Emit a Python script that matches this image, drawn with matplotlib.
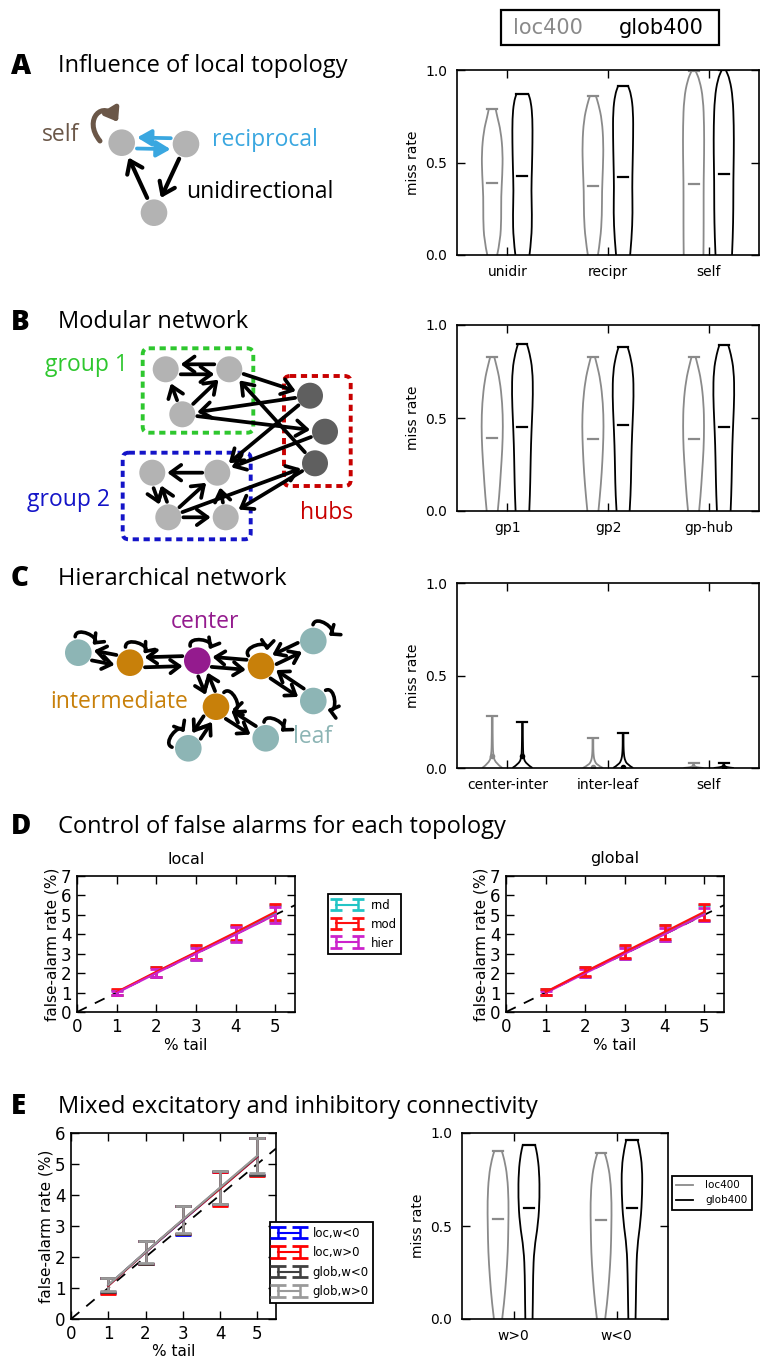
import numpy as np
import matplotlib
matplotlib.use("Agg")
import matplotlib.pyplot as plt
from matplotlib.patches import Circle, FancyArrowPatch, FancyBboxPatch, Rectangle, PathPatch
from matplotlib.path import Path

# ---------------- data ----------------
# violin profiles: half-widths sampled at these fractions of each violin's max
FRAC = [0, 0.1, 0.25, 0.4, 0.55, 0.7, 0.85, 0.95, 1.0]

A_cats = ["unidir", "recipr", "self"]
A_loc_top = [0.787, 0.859, 0.995]
A_loc_med = [0.389, 0.373, 0.384]
A_glob_top = [0.870, 0.913, 1.0]
A_glob_med = [0.427, 0.422, 0.436]
A_loc_hw = [[0.049, 0.08, 0.09, 0.088, 0.1, 0.105, 0.085, 0.05, 0.035],
            [0.05, 0.075, 0.09, 0.09, 0.1, 0.105, 0.09, 0.055, 0.03],
            [0.098, 0.1, 0.1, 0.1, 0.105, 0.105, 0.095, 0.06, 0.02]]
A_glob_hw = [[0.07, 0.09, 0.095, 0.088, 0.095, 0.1, 0.1, 0.085, 0.06],
             [0.07, 0.085, 0.095, 0.09, 0.095, 0.1, 0.1, 0.08, 0.05],
             [0.082, 0.09, 0.095, 0.095, 0.1, 0.1, 0.09, 0.06, 0.02]]

B_cats = ["gp1", "gp2", "gp-hub"]
B_loc_top = [0.828, 0.828, 0.828]
B_loc_med = [0.395, 0.386, 0.386]
B_glob_top = [0.896, 0.881, 0.890]
B_glob_med = [0.450, 0.461, 0.452]
B_loc_hw = [[0.055, 0.07, 0.085, 0.1, 0.107, 0.1, 0.075, 0.04, 0.02],
            [0.055, 0.07, 0.088, 0.1, 0.107, 0.1, 0.075, 0.04, 0.02],
            [0.055, 0.07, 0.085, 0.1, 0.105, 0.1, 0.075, 0.04, 0.02]]
B_glob_hw = [[0.068, 0.075, 0.08, 0.085, 0.095, 0.105, 0.1, 0.07, 0.045],
             [0.065, 0.075, 0.08, 0.085, 0.095, 0.105, 0.1, 0.07, 0.045],
             [0.068, 0.075, 0.08, 0.085, 0.095, 0.105, 0.1, 0.07, 0.045]]

C_cats = ["center-inter", "inter-leaf", "self"]
C_loc_top = [0.282, 0.163, 0.027]
C_loc_med = [0.063, 0.003, 0.002]
C_glob_top = [0.248, 0.190, 0.027]
C_glob_med = [0.063, 0.003, 0.002]
C_loc_hw = [[0.1, 0.03, 0.01, 0.006, 0.005, 0.004, 0.004, 0.004, 0.003],
            [0.1, 0.04, 0.015, 0.008, 0.005, 0.004, 0.004, 0.004, 0.003],
            [0.1, 0.05, 0.02, 0.01, 0.006, 0.004, 0.004, 0.003, 0.003]]
C_glob_hw = [[0.1, 0.03, 0.01, 0.006, 0.005, 0.004, 0.004, 0.004, 0.003],
             [0.1, 0.04, 0.015, 0.008, 0.005, 0.004, 0.004, 0.004, 0.003],
             [0.1, 0.05, 0.02, 0.01, 0.006, 0.004, 0.004, 0.003, 0.003]]

E_cats = ["w>0", "w<0"]
E_loc_top = [0.905, 0.892]
E_loc_med = [0.540, 0.530]
E_glob_top = [0.935, 0.962]
E_glob_med = [0.595, 0.595]
E_loc_hw = [[0.04, 0.06, 0.08, 0.095, 0.1, 0.103, 0.09, 0.06, 0.035],
            [0.04, 0.06, 0.08, 0.095, 0.1, 0.103, 0.09, 0.06, 0.035]]
E_glob_hw = [[0.035, 0.038, 0.04, 0.05, 0.09, 0.104, 0.1, 0.08, 0.06],
             [0.035, 0.038, 0.042, 0.05, 0.085, 0.1, 0.1, 0.075, 0.055]]

# false alarm rate (%) vs % tail
tail = [1, 2, 3, 4, 5]
D_loc_rnd = [1.00, 2.05, 3.05, 4.05, 5.08]
D_loc_rnd_err = [0.15, 0.26, 0.35, 0.40, 0.42]
D_loc_mod = [1.03, 2.07, 3.08, 4.10, 5.15]
D_loc_mod_err = [0.15, 0.25, 0.35, 0.38, 0.43]
D_loc_hier = [0.98, 2.00, 3.00, 3.98, 5.00]
D_loc_hier_err = [0.12, 0.22, 0.30, 0.38, 0.40]
D_glob_rnd = [1.01, 2.05, 3.07, 4.07, 5.10]
D_glob_rnd_err = [0.15, 0.25, 0.32, 0.40, 0.42]
D_glob_mod = [1.03, 2.08, 3.10, 4.12, 5.15]
D_glob_mod_err = [0.15, 0.24, 0.33, 0.38, 0.43]
D_glob_hier = [0.98, 2.00, 3.00, 4.00, 5.02]
D_glob_hier_err = [0.12, 0.22, 0.28, 0.33, 0.35]

E_loc_neg = [1.08, 2.15, 3.18, 4.21, 5.23]
E_loc_neg_err = [0.25, 0.37, 0.48, 0.54, 0.60]
E_loc_pos = [1.07, 2.15, 3.19, 4.20, 5.23]
E_loc_pos_err = [0.25, 0.38, 0.46, 0.54, 0.61]
E_glob_neg = [1.09, 2.16, 3.20, 4.23, 5.25]
E_glob_neg_err = [0.23, 0.37, 0.46, 0.53, 0.59]
E_glob_pos = [1.10, 2.16, 3.21, 4.24, 5.27]
E_glob_pos_err = [0.21, 0.36, 0.45, 0.52, 0.57]

# ---------------- helpers ----------------
W, H = 760, 1363
fig = plt.figure(figsize=(W / 100, H / 100), dpi=100)
LOC_C = "#8a8a8a"
TFONT = "Open Sans"
LFS = 16.5  # diagram label size

ax0 = fig.add_axes([0, 0, 1, 1])
ax0.set_xlim(0, W)
ax0.set_ylim(H, 0)
ax0.axis("off")


def px_axes(l, t, r, b):
    return fig.add_axes([l / W, 1 - b / H, (r - l) / W, (b - t) / H])


def smooth_line(ax, xs, ys, **kw):
    verts = [(xs[0], ys[0])]
    codes = [Path.MOVETO]
    for i in range(1, len(xs) - 1):
        verts += [(xs[i], ys[i]), ((xs[i] + xs[i + 1]) / 2, (ys[i] + ys[i + 1]) / 2)]
        codes += [Path.CURVE3, Path.CURVE3]
    verts.append((xs[-1], ys[-1]))
    codes.append(Path.LINETO)
    ax.add_patch(PathPatch(Path(verts, codes), fill=False, **kw))


def violin(ax, pos, top, med, hws, color, dot=False):
    ys = np.array(FRAC) * top
    hw = np.array(hws)
    smooth_line(ax, pos - hw, ys, ec=color, lw=1.3)
    smooth_line(ax, pos + hw, ys, ec=color, lw=1.3)
    cap = max(0.05, hw[-1])
    ax.plot([pos - cap, pos + cap], [top, top], color=color, lw=1.6)
    if dot:
        ax.plot([pos], [med], "o", color=color, ms=3)
    else:
        ax.plot([pos - 0.05, pos + 0.05], [med, med], color=color, lw=1.6)


def violin_panel(ax, cats, ltop, lmed, lhw, gtop, gmed, ghw, fs=10, dot=False):
    for i in range(len(cats)):
        violin(ax, i + 1 - 0.15, ltop[i], lmed[i], lhw[i], LOC_C, dot)
        violin(ax, i + 1 + 0.15, gtop[i], gmed[i], ghw[i], "black", dot)
    ax.set_xlim(0.5, len(cats) + 0.5)
    ax.set_ylim(0, 1)
    ax.set_xticks(range(1, len(cats) + 1))
    ax.set_xticklabels(cats)
    ax.set_yticks([0, 0.5, 1.0])
    ax.set_yticklabels(["0.0", "0.5", "1.0"])
    ax.set_ylabel("miss rate", fontsize=fs)
    ax.tick_params(direction="in", top=True, right=True, length=6, width=1,
                   labelsize=fs, pad=7)
    for s in ax.spines.values():
        s.set_linewidth(1.2)


def style_fa(ax, ymax):
    ax.set_xlim(0, 5.5)
    ax.set_ylim(0, ymax)
    ax.set_xticks(range(6))
    ax.set_yticks(range(ymax + 1))
    ax.tick_params(direction="in", top=True, right=True, length=6, width=1,
                   labelsize=12, pad=4)
    ax.set_xlabel("% tail", fontsize=11, labelpad=2)
    ax.set_ylabel("false-alarm rate (%)", fontsize=11, labelpad=1)
    xs = np.array(ax.get_xlim())
    ax.plot(xs, xs, "k--", lw=1.3, dashes=(6, 5), zorder=1)
    for s in ax.spines.values():
        s.set_linewidth(1.2)


def arrow(p, q, r, color="k", off=0, lw=2.7, style="->,head_length=0.55,head_width=0.4",
          gap=3, ms=14):
    p = np.array(p, float)
    q = np.array(q, float)
    d = q - p
    u = d / np.hypot(*d)
    n = np.array([-u[1], u[0]])
    a = p + u * (r + gap) + n * off
    b = q - u * (r + gap) + n * off
    ax0.add_patch(FancyArrowPatch(a, b, arrowstyle=style, mutation_scale=ms, lw=lw,
                                  color=color, shrinkA=0, shrinkB=0, zorder=3))


def curve_arrow(pts, color="k", lw=2.6, style="->,head_length=0.5,head_width=0.4", ms=11):
    path = Path(pts, [Path.MOVETO, Path.CURVE4, Path.CURVE4, Path.CURVE4])
    ax0.add_patch(FancyArrowPatch(path=path, arrowstyle=style, mutation_scale=ms, lw=lw,
                                  color=color, zorder=3))


def unit(a):
    a = np.radians(a)
    return np.array([np.cos(a), -np.sin(a)])


def self_loop(c, r, ang, spread=36, L=11):
    c = np.array(c, float)
    R = r + 3
    A = c + R * unit(ang + spread)
    B = c + R * unit(ang - spread)
    curve_arrow([A, A + L * unit(ang + 20), B + L * unit(ang - 20), B])


def nodes(pts, r, colors):
    for (x, y), c in zip(pts, colors):
        ax0.add_patch(Circle((x, y), r, color=c, zorder=4, lw=0))


def panel_title(y, letter, text):
    ax0.text(11, y, letter, fontsize=20, fontweight=800, family=TFONT, va="center")
    ax0.text(58, y, text, fontsize=17, family=TFONT, va="center")


# ---------------- panel titles ----------------
panel_title(66, "A", "Influence of local topology")
panel_title(322, "B", "Modular network")
panel_title(579, "C", "Hierarchical network")
panel_title(827, "D", "Control of false alarms for each topology")
panel_title(1107, "E", "Mixed excitatory and inhibitory connectivity")

# ---------------- diagram A ----------------
gray = "#b3b3b3"
A_nodes = [(121.7, 142.7), (186, 144), (154, 212.7)]
rA = 13.3
nodes(A_nodes, rA, [gray] * 3)
blue = "#3aa7e0"
arrow(A_nodes[1], A_nodes[0], rA, color=blue, off=5.5, gap=2,
      style="-|>,head_length=0.6,head_width=0.35")
arrow(A_nodes[0], A_nodes[1], rA, color=blue, off=5.5, gap=2,
      style="-|>,head_length=0.6,head_width=0.35")
arrow(A_nodes[2], A_nodes[0], rA, lw=3, ms=15)
arrow(A_nodes[1], A_nodes[2], rA, lw=3, ms=15)
brown = "#6b5748"
curve_arrow([(100, 141), (82, 119), (104, 99), (118, 122)], color=brown, lw=3.6,
            style="-|>,head_length=0.55,head_width=0.4", ms=13)
ax0.text(42, 135, "self", color=brown, fontsize=LFS, family=TFONT, va="center")
ax0.text(212, 140, "reciprocal", color=blue, fontsize=LFS, family=TFONT, va="center")
ax0.text(186, 192, "unidirectional", color="black", fontsize=LFS, family=TFONT, va="center")

# ---------------- diagram B ----------------
rB = 13
B_pos = {
    "g1a": (165.7, 369.3), "g1b": (229.3, 369.3), "g1c": (182.3, 414.3),
    "g2a": (152.3, 472.7), "g2b": (217.3, 472.7), "g2c": (168.3, 517.3), "g2d": (225.7, 517.3),
    "h1": (310, 395.7), "h2": (325, 431.7), "h3": (315, 463.3),
}
B_col = {k: ("#5f5f5f" if k.startswith("h") else gray) for k in B_pos}
B_edges = [("g1b", "g1a", 5), ("g1a", "g1b", 5), ("g1c", "g1a", 0), ("g1c", "g1b", 0),
           ("g1b", "h1", 0), ("h1", "g1c", 0), ("g1c", "h2", 0), ("h3", "g1b", 0),
           ("h1", "g2b", 0), ("h2", "g2b", 0), ("g2b", "g2a", 0), ("g2a", "g2c", 4),
           ("g2c", "g2a", 4), ("g2c", "g2b", 0), ("g2c", "h3", 0), ("g2c", "g2d", 0),
           ("g2d", "g2b", 0), ("h3", "g2d", 0)]
for u, v, o in B_edges:
    arrow(B_pos[u], B_pos[v], rB, off=o, gap=2)
nodes(list(B_pos.values()), rB, list(B_col.values()))
dash = (0, (1.6, 1.2))
for (l, t, r, b), c in [((142.7, 348.3, 253.3, 432.7), "#2ec72e"),
                        ((122.7, 452.7, 250.7, 539.3), "#1414c8"),
                        ((284, 376, 350.7, 486), "#c80000")]:
    ax0.add_patch(FancyBboxPatch((l, t), r - l, b - t, boxstyle="round,pad=0,rounding_size=6",
                                 fill=False, ec=c, lw=2.8, ls=dash, zorder=2))
ax0.text(45, 365, "group 1", color="#2ec72e", fontsize=LFS, family=TFONT, va="center")
ax0.text(27, 500, "group 2", color="#1414c8", fontsize=LFS, family=TFONT, va="center")
ax0.text(300, 513, "hubs", color="#c80000", fontsize=LFS, family=TFONT, va="center")

# ---------------- diagram C ----------------
rC = 13.3
leafc, interc, centc = "#8db5b5", "#c8800a", "#941b8e"
C_pos = {
    "l1": (78.3, 652.7), "i1": (130, 662.7), "c": (197.3, 660.7), "i2": (261, 666),
    "l2": (313.3, 641), "l3": (313.3, 701), "i3": (216, 706.7), "l4": (188.3, 748.3),
    "l5": (265.7, 738.3),
}
C_col = {k: (centc if k == "c" else interc if k.startswith("i") else leafc) for k in C_pos}
C_edges = [("l1", "i1"), ("i1", "c"), ("c", "i2"), ("i2", "l2"), ("i2", "l3"),
           ("c", "i3"), ("i3", "l4"), ("i3", "l5")]
for u, v in C_edges:
    arrow(C_pos[u], C_pos[v], rC, off=5, gap=1.5, ms=12)
    arrow(C_pos[v], C_pos[u], rC, off=5, gap=1.5, ms=12)
C_loops = {"l1": 65, "i1": 70, "c": 80, "i2": 105, "l2": 55, "l3": 5, "i3": 25,
           "l4": 140, "l5": 60}
for k, a in C_loops.items():
    self_loop(C_pos[k], rC, a)
nodes(list(C_pos.values()), rC, list(C_col.values()))
ax0.text(171, 622, "center", color=centc, fontsize=LFS, family=TFONT, va="center")
ax0.text(50, 702, "intermediate", color=interc, fontsize=LFS, family=TFONT, va="center")
ax0.text(293, 737, "leaf", color=leafc, fontsize=LFS, family=TFONT, va="center", zorder=5)

# ---------------- top legend ----------------
ax0.add_patch(Rectangle((501, 10), 218, 35, fill=False, ec="black", lw=1.6))
ax0.text(513, 28, "loc400", color=LOC_C, fontsize=15, va="center")
ax0.text(619, 28, "glob400", color="black", fontsize=15, va="center")

# ---------------- violin panels ----------------
axA = px_axes(457, 70, 759, 255)
violin_panel(axA, A_cats, A_loc_top, A_loc_med, A_loc_hw, A_glob_top, A_glob_med, A_glob_hw)
axB = px_axes(457, 325, 759, 511)
violin_panel(axB, B_cats, B_loc_top, B_loc_med, B_loc_hw, B_glob_top, B_glob_med, B_glob_hw)
axC = px_axes(457, 583, 759, 768)
violin_panel(axC, C_cats, C_loc_top, C_loc_med, C_loc_hw, C_glob_top, C_glob_med, C_glob_hw,
             dot=True)
axE2 = px_axes(462, 1133, 668, 1319)
violin_panel(axE2, E_cats, E_loc_top, E_loc_med, E_loc_hw, E_glob_top, E_glob_med, E_glob_hw)
h1, = axE2.plot([], [], color=LOC_C, lw=1.3, label="loc400")
h2, = axE2.plot([], [], color="black", lw=1.3, label="glob400")
legV = fig.legend(handles=[h1, h2], loc="upper left", bbox_to_anchor=(672 / W, 1 - 1176 / H),
                  fontsize=7.5, fancybox=False, edgecolor="black", framealpha=1,
                  borderaxespad=0, handlelength=1.6, handletextpad=1.2)
legV.get_frame().set_linewidth(1.3)

# ---------------- D ----------------
ebk = dict(capsize=4.5, capthick=2, lw=1.5, elinewidth=1.8)
axD1 = px_axes(77, 876, 295, 1012)
style_fa(axD1, 7)
axD1.set_title("local", fontsize=11.5, pad=9)
eD = [axD1.errorbar(tail, D_loc_rnd, yerr=D_loc_rnd_err, color="#22c5c5", label="rnd", **ebk),
      axD1.errorbar(tail, D_loc_mod, yerr=D_loc_mod_err, color="#ff1010", label="mod", **ebk),
      axD1.errorbar(tail, D_loc_hier, yerr=D_loc_hier_err, color="#cc22cc", label="hier", **ebk)]
axD2 = px_axes(506, 876, 724, 1012)
style_fa(axD2, 7)
axD2.set_title("global", fontsize=11.5, pad=9)
axD2.errorbar(tail, D_glob_rnd, yerr=D_glob_rnd_err, color="#22c5c5", **ebk)
axD2.errorbar(tail, D_glob_hier, yerr=D_glob_hier_err, color="#cc22cc", **ebk)
axD2.errorbar(tail, D_glob_mod, yerr=D_glob_mod_err, color="#ff1010", **ebk)
legD = fig.legend(handles=eD, loc="upper left", bbox_to_anchor=(328 / W, 1 - 894 / H),
                  fontsize=8.5, fancybox=False, edgecolor="black", framealpha=1,
                  borderaxespad=0, numpoints=2, handlelength=2.4, labelspacing=0.5)
legD.get_frame().set_linewidth(1.3)

# ---------------- E ----------------
axE1 = px_axes(71, 1133, 276, 1319)
style_fa(axE1, 6)
axE1.xaxis.labelpad = 1
ebE = dict(capsize=5.5, capthick=2, lw=1.5, elinewidth=1.8)
eE = [axE1.errorbar(tail, E_loc_neg, yerr=E_loc_neg_err, color="#0000ff", label="loc,w<0", **ebE),
      axE1.errorbar(tail, E_loc_pos, yerr=E_loc_pos_err, color="#ff0000", label="loc,w>0", **ebE),
      axE1.errorbar(tail, E_glob_neg, yerr=E_glob_neg_err, color="#404040", label="glob,w<0", **ebE),
      axE1.errorbar(tail, E_glob_pos, yerr=E_glob_pos_err, color="#9a9a9a", label="glob,w>0", **ebE)]
legE = fig.legend(handles=eE, loc="upper left", bbox_to_anchor=(270 / W, 1 - 1222 / H),
                  fontsize=8.5, fancybox=False, edgecolor="black", framealpha=1,
                  borderaxespad=0, numpoints=2, handlelength=2.4, labelspacing=0.55)
legE.get_frame().set_linewidth(1.3)
legE.set_zorder(10)

fig.savefig("out.png", dpi=100)
